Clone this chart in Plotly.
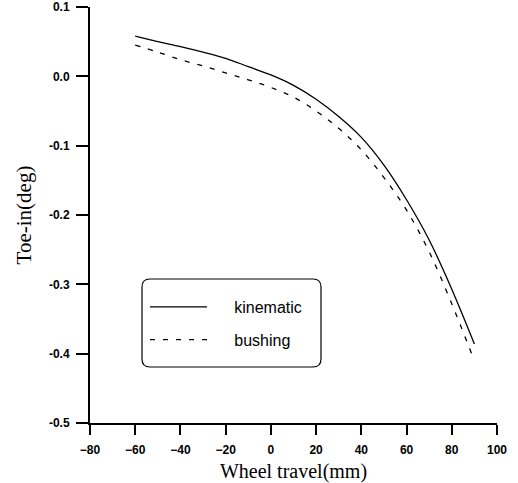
import plotly.graph_objects as go

# Data
travel_kin = [-60, -50, -40, -30, -20, -10, 0, 10, 20, 30, 40, 50, 60, 70, 80, 90]
toe_kin = [0.058, 0.050, 0.043, 0.035, 0.026, 0.014, 0.002, -0.013, -0.033, -0.058,
           -0.088, -0.128, -0.178, -0.236, -0.307, -0.386]

travel_bush = [-60, -50, -40, -30, -20, -10, 0, 10, 20, 30, 40, 50, 60, 70, 80, 89]
toe_bush = [0.045, 0.035, 0.024, 0.015, 0.005, -0.005, -0.016, -0.030, -0.050, -0.075,
            -0.106, -0.146, -0.193, -0.253, -0.328, -0.402]

x_ticks = [-80, -60, -40, -20, 0, 20, 40, 60, 80, 100]
y_ticks = [0.1, 0.0, -0.1, -0.2, -0.3, -0.4, -0.5]
y_tick_text = ["0.1", "0.0", "-0.1", "-0.2", "-0.3", "-0.4", "-0.5"]
series_names = ["kinematic", "bushing"]

PAD = "\u00a0" * 5

fig = go.Figure()
fig.add_trace(go.Scatter(x=travel_kin, y=toe_kin, mode="lines", name=PAD + series_names[0],
                         line=dict(color="black", width=1.3, shape="spline"),
                         legendgroup="a"))
fig.add_trace(go.Scatter(x=travel_bush, y=toe_bush, mode="lines", name=PAD + series_names[1],
                         line=dict(color="black", width=1.3, dash="5px,8px", shape="spline"),
                         legendgroup="b"))

W, H = 518, 483
L, R, T, B = 90, 21, 7, 60
pw, ph = W - L - R, H - T - B

def px_x(p):
    return (p - L) / pw

def px_y(p):
    return (H - B - p) / ph

# rounded legend box
bx0, bx1, by0, by1 = px_x(142), px_x(321), px_y(367), px_y(279)
rx, ry = 8 / pw, 8 / ph
path = (f"M{bx0+rx},{by1} L{bx1-rx},{by1} Q{bx1},{by1} {bx1},{by1-ry} "
        f"L{bx1},{by0+ry} Q{bx1},{by0} {bx1-rx},{by0} L{bx0+rx},{by0} "
        f"Q{bx0},{by0} {bx0},{by0+ry} L{bx0},{by1-ry} Q{bx0},{by1} {bx0+rx},{by1} Z")

fig.update_layout(
    width=W, height=H,
    margin=dict(l=L, r=R, t=T, b=B, autoexpand=False),
    paper_bgcolor="white", plot_bgcolor="white",
    showlegend=True,
    legend=dict(x=px_x(145), y=px_y(290), xanchor="left", yanchor="top",
                bgcolor="rgba(0,0,0,0)", borderwidth=0, tracegroupgap=9,
                itemwidth=57,
                font=dict(family="Liberation Sans, Arial", size=16, color="black")),
    shapes=[dict(type="path", xref="paper", yref="paper", path=path,
                 line=dict(color="black", width=1.2), fillcolor="rgba(0,0,0,0)")],
    xaxis=dict(range=[-80, 100], tickvals=x_ticks, ticks="outside", ticklen=10,
               tickwidth=2, tickcolor="black", showline=True, linecolor="black",
               linewidth=1.5, showgrid=False, zeroline=False, automargin=False,
               ticklabelstandoff=5,
               tickfont=dict(family="Liberation Sans, Arial", size=12, color="black",
                             weight="bold"),
               title=dict(text="Wheel travel(mm)", standoff=10,
                          font=dict(family="Liberation Serif, Times New Roman", size=20,
                                    color="black"))),
    yaxis=dict(range=[-0.5, 0.1], tickvals=y_ticks, ticktext=y_tick_text, ticks="outside",
               ticklen=12, tickwidth=2, tickcolor="black", showline=True,
               linecolor="black", linewidth=2, showgrid=False, zeroline=False,
               automargin=False, ticklabelstandoff=4,
               tickfont=dict(family="Liberation Sans, Arial", size=12, color="black",
                             weight="bold"),
               title=dict(text="Toe-in(deg)", standoff=12,
                          font=dict(family="Liberation Serif, Times New Roman", size=21,
                                    color="black"))),
)

fig.write_html("out.html")
